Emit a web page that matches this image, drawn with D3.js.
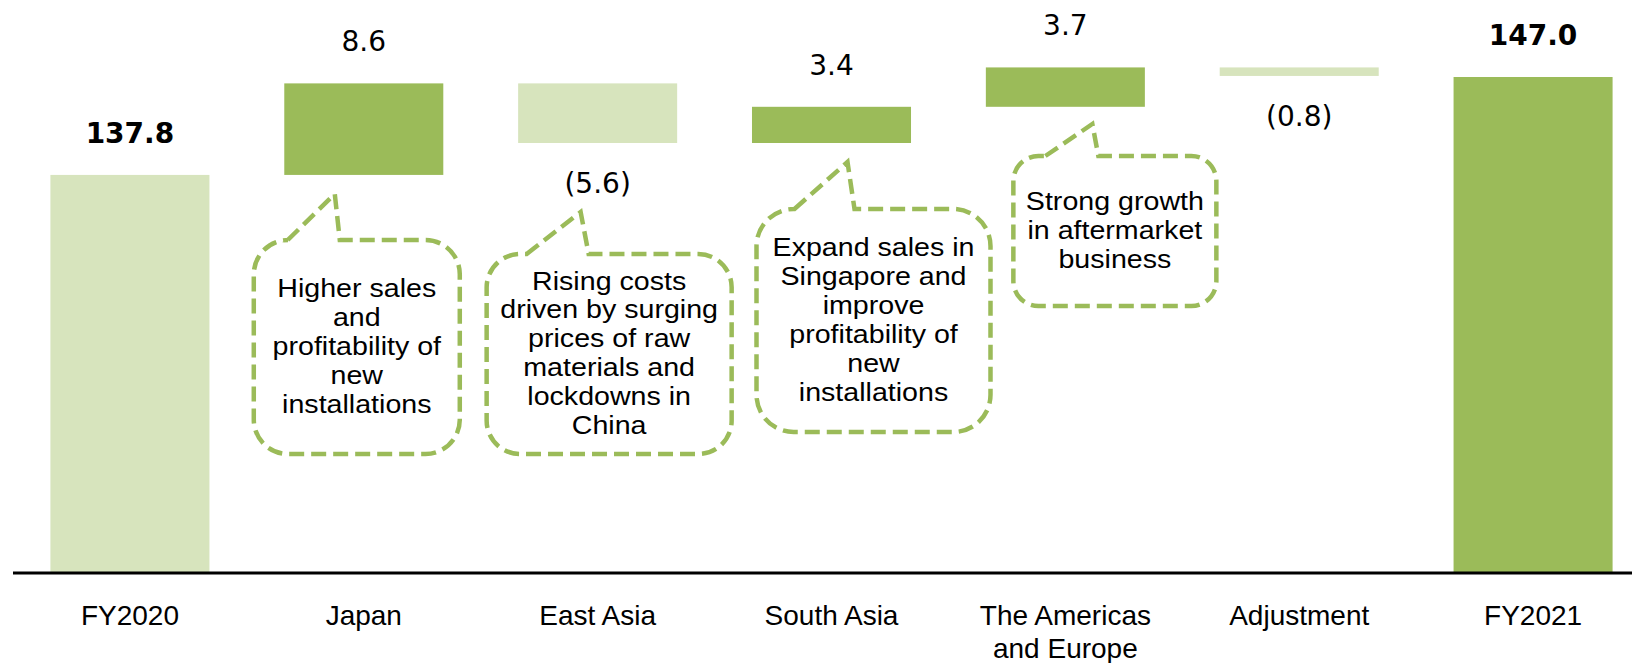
<!DOCTYPE html>
<html>
<head>
<meta charset="utf-8">
<script src="https://cdn.jsdelivr.net/npm/d3@7"></script>
<style>
  body { margin: 0; background: #fff; }
  svg { display: block; }
  .num { font-family: "DejaVu Sans", Verdana, sans-serif; font-size: 28px; fill: #000; }
  .cat { font-family: "Liberation Sans", Arial, sans-serif; font-size: 28px; fill: #000; }
  .note { font-family: "Liberation Sans", Arial, sans-serif; font-size: 26px; fill: #000; }
</style>
</head>
<body>
<svg id="chart" width="1632" height="663"></svg>
<script>
// waterfall data
var categories = ['FY2020', 'Japan', 'East Asia', 'South Asia', 'The Americas\nand Europe', 'Adjustment', 'FY2021'];
var values = [137.8, 8.6, -5.6, 3.4, 3.7, -0.8, 147.0];
var kinds = ['total', 'delta', 'delta', 'delta', 'delta', 'delta', 'total'];

// callout texts (one per commented category)
var noteCategories = ['Japan', 'East Asia', 'South Asia', 'The Americas\nand Europe'];
var noteTexts = [
  ['Higher sales', 'and', 'profitability of', 'new', 'installations'],
  ['Rising costs', 'driven by surging', 'prices of raw', 'materials and', 'lockdowns in', 'China'],
  ['Expand sales in', 'Singapore and', 'improve', 'profitability of', 'new', 'installations'],
  ['Strong growth', 'in aftermarket', 'business']
];

// layout for the callouts: offsets from band centre, box top/bottom, tip, wedge base
var noteLayout = [
  {left: -110, right: 96, top: 240, bottom: 454, tipX: -29, tipY: 194, b0: 34, b1: 86},
  {left: -111, right: 134, top: 254, bottom: 454, tipX: -17, tipY: 212, b0: 40, b1: 102},
  {left: -75, right: 159, top: 209, bottom: 432, tipX: 16, tipY: 162, b0: 38, b1: 98},
  {left: -52, right: 151, top: 156, bottom: 306, tipX: 27, tipY: 124, b0: 32, b1: 85}
];

var dark = '#9BBB59';
var light = '#D7E4BD';

var svg = d3.select('#chart');

var x = d3.scaleBand()
  .domain(categories)
  .range([13, 1650])
  .paddingInner(0.32)
  .paddingOuter(0.16);

var y = d3.scaleLinear().domain([100.4, 147]).range([573, 77]);

// build the running totals
var rows = [];
var run = 0;
categories.forEach(function(c, i) {
  var v = values[i];
  var r = {cat: c, value: v, kind: kinds[i]};
  if (kinds[i] === 'total') {
    r.y0 = y.domain()[0];
    r.y1 = v;
    run = v;
  } else {
    r.y0 = run;
    r.y1 = run + v;
    run = run + v;
  }
  r.color = (kinds[i] === 'total' ? i > 0 : v > 0) ? dark : light;
  rows.push(r);
});

///*********** bars ************/
svg.append('g')
  .selectAll('rect')
  .data(rows)
  .join('rect')
  .attr('x', function(d) { return x(d.cat); })
  .attr('width', x.bandwidth())
  .attr('y', function(d) { return y(Math.max(d.y0, d.y1)); })
  .attr('height', function(d) { return Math.abs(y(d.y0) - y(d.y1)); })
  .style('fill', function(d) { return d.color; });

///*********** value labels ************/
svg.append('g')
  .selectAll('text')
  .data(rows)
  .join('text')
  .attr('class', 'num')
  .attr('text-anchor', 'middle')
  .attr('x', function(d) { return x(d.cat) + x.bandwidth() / 2; })
  .attr('y', function(d) {
    if (d.value < 0) return y(Math.min(d.y0, d.y1)) + 50;
    return y(Math.max(d.y0, d.y1)) - 32;
  })
  .style('font-weight', function(d) { return d.kind === 'total' ? 'bold' : 'normal'; })
  .text(function(d) {
    var s = Math.abs(d.value).toFixed(1);
    return d.value < 0 ? '(' + s + ')' : s;
  });

///*********** axis ************/
svg.append('line')
  .attr('x1', 13)
  .attr('x2', 1632)
  .attr('y1', y.range()[0])
  .attr('y2', y.range()[0])
  .style('stroke', '#000')
  .style('stroke-width', 3);

svg.append('g')
  .selectAll('text')
  .data(categories)
  .join('text')
  .attr('class', 'cat')
  .attr('text-anchor', 'middle')
  .attr('transform', function(d) { return 'translate(' + (x(d) + x.bandwidth() / 2) + ',625)'; })
  .each(function(d) {
    var t = d3.select(this);
    d.split('\n').forEach(function(line, i) {
      t.append('tspan').attr('x', 0).attr('y', i * 33).text(line);
    });
  });

///*********** callouts ************/
function calloutPath(cx, L) {
  var x0 = cx + L.left, x1 = cx + L.right, y0 = L.top, y1 = L.bottom;
  var r = Math.min(x1 - x0, y1 - y0) / 6;
  var p = d3.path();
  p.moveTo(x0 + L.b0, y0);
  p.lineTo(cx + L.tipX, L.tipY);
  p.lineTo(x0 + L.b1, y0);
  p.lineTo(x1 - r, y0);
  p.arcTo(x1, y0, x1, y0 + r, r);
  p.lineTo(x1, y1 - r);
  p.arcTo(x1, y1, x1 - r, y1, r);
  p.lineTo(x0 + r, y1);
  p.arcTo(x0, y1, x0, y1 - r, r);
  p.lineTo(x0, y0 + r);
  p.arcTo(x0, y0, x0 + r, y0, r);
  p.closePath();
  return p.toString();
}

var notes = svg.append('g')
  .selectAll('g')
  .data(noteCategories)
  .join('g');

notes.append('path')
  .attr('d', function(d, i) { return calloutPath(x(d) + x.bandwidth() / 2, noteLayout[i]); })
  .style('fill', 'none')
  .style('stroke', dark)
  .style('stroke-width', 4.5)
  .style('stroke-dasharray', '15,7');

notes.append('text')
  .attr('class', 'note')
  .attr('text-anchor', 'middle')
  .attr('transform', function(d, i) {
    var L = noteLayout[i];
    var cx = x(d) + x.bandwidth() / 2 + (L.left + L.right) / 2;
    var first = (L.top + L.bottom) / 2 - (noteTexts[i].length - 1) / 2 * 29 + 8;
    return 'translate(' + cx + ',' + first + ') scale(1.1,1)';
  })
  .each(function(d, i) {
    var t = d3.select(this);
    noteTexts[i].forEach(function(line, k) {
      t.append('tspan').attr('x', 0).attr('y', k * 29).text(line);
    });
  });
</script>
</body>
</html>
